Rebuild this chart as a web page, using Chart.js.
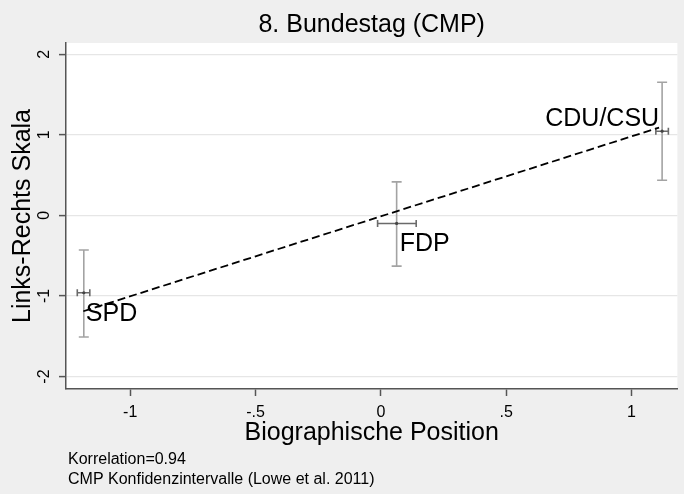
<!DOCTYPE html>
<html><head><meta charset="utf-8">
<script src="https://cdn.jsdelivr.net/npm/chart.js@4/dist/chart.umd.min.js"></script>
<style>html,body{margin:0;padding:0;background:#efefef;overflow:hidden}#wrap{width:684px;height:494px;position:relative}</style>
</head><body><div id="wrap"><canvas id="c" width="684" height="494"></canvas></div>
<script>
// ---- data ----
const parties = ['SPD', 'FDP', 'CDU/CSU'];
const bioPos  = [-1.185, 0.063, 1.122];   // x centre (Biographische Position)
const bioLow  = [-1.211, -0.013, 1.097];
const bioHigh = [-1.161, 0.141, 1.147];
const cmpPos  = [-0.96, -0.10, 1.045];     // y centre (Links-Rechts Skala)
const cmpLow  = [-1.51, -0.63, 0.437];
const cmpHigh = [-0.43, 0.416, 1.653];
const fitX = [-1.187, 1.11];
const fitY = [-1.19, 1.09];
const xTicks = [-1, -0.5, 0, 0.5, 1];
const xTickLabels = ['-1', '-.5', '0', '.5', '1'];
const yTicks = [-2, -1, 0, 1, 2];
const yTickLabels = ['-2', '-1', '0', '1', '2'];
const titleText = '8. Bundestag (CMP)';
const xTitle = 'Biographische Position';
const yTitle = 'Links-Rechts Skala';
const notes = ['Korrelation=0.94', 'CMP Konfidenzintervalle (Lowe et al. 2011)'];

const FONT = "'Liberation Sans', Arial, Helvetica, sans-serif";
// label placement (style): dx, dy from point, alignment
const labelPlace = [
  {dx: 2, dy: 21, align: 'left'},
  {dx: 3, dy: 21, align: 'left'},
  {dx: -3, dy: -12, align: 'right'}
];

const datasets = [];
parties.forEach((p, i) => {
  datasets.push({
    label: p + ' CMP',
    data: [{x: bioPos[i], y: cmpLow[i]}, {x: bioPos[i], y: cmpHigh[i]}],
    showLine: true, borderColor: '#a3a3a3', borderWidth: 1.6,
    pointStyle: 'line', pointRadius: 5, pointHoverRadius: 5,
    pointBorderColor: '#a3a3a3', pointBorderWidth: 1.6, order: 5
  });
  datasets.push({
    label: p + ' Bio',
    data: [{x: bioLow[i], y: cmpPos[i]}, {x: bioHigh[i], y: cmpPos[i]}],
    showLine: true, borderColor: '#6a6a6a', borderWidth: 1.6,
    pointStyle: 'line', pointRotation: 90, pointRadius: 3.5, pointHoverRadius: 3.5,
    pointBorderColor: '#6a6a6a', pointBorderWidth: 1.6, order: 4
  });
});
datasets.push({
  label: 'centre',
  data: bioPos.map((x, i) => ({x, y: cmpPos[i]})),
  showLine: false, pointRadius: 1.6, pointBackgroundColor: '#444', pointBorderColor: '#444',
  pointBorderWidth: 0, order: 3
});
datasets.push({
  label: 'fit',
  data: fitX.map((x, i) => ({x, y: fitY[i]})),
  showLine: true, borderColor: '#000', borderWidth: 1.8, borderDash: [8, 4],
  pointRadius: 0, order: 2
});

const bgPlugin = {
  id: 'bg',
  beforeDraw(chart) {
    const {ctx, chartArea: a} = chart;
    ctx.save();
    ctx.fillStyle = '#efefef';
    ctx.fillRect(0, 0, chart.width, chart.height);
    ctx.fillStyle = '#ffffff';
    ctx.fillRect(a.left, a.top, a.right - a.left, a.bottom - a.top);
    ctx.restore();
  }
};
const labelPlugin = {
  id: 'mlabels',
  afterDatasetsDraw(chart) {
    const {ctx, scales: {x, y}} = chart;
    ctx.save();
    ctx.font = '25px ' + FONT;
    ctx.fillStyle = '#000';
    ctx.textBaseline = 'middle';
    parties.forEach((p, i) => {
      const lp = labelPlace[i];
      ctx.textAlign = lp.align;
      ctx.fillText(p, x.getPixelForValue(bioPos[i]) + lp.dx, y.getPixelForValue(cmpPos[i]) + lp.dy);
    });
    ctx.restore();
  }
};
const notePlugin = {
  id: 'notes',
  afterDraw(chart) {
    const ctx = chart.ctx;
    ctx.save();
    ctx.font = '16px ' + FONT;
    ctx.fillStyle = '#000';
    ctx.textBaseline = 'middle';
    ctx.textAlign = 'left';
    notes.forEach((t, i) => ctx.fillText(t, 68, 460 + i * 20));
    ctx.restore();
  }
};

new Chart(document.getElementById('c'), {
  type: 'scatter',
  data: {datasets},
  plugins: [bgPlugin, labelPlugin, notePlugin],
  options: {
    responsive: false, animation: false, devicePixelRatio: 1,
    layout: {padding: {left: 0, right: 1, top: 0, bottom: 49}},
    plugins: {
      legend: {display: false}, tooltip: {enabled: false},
      title: {display: true, text: titleText, fullSize: false, color: '#000',
        font: {family: FONT, size: 25, weight: 'normal', lineHeight: 1.0},
        padding: {top: 13, bottom: 5}}
    },
    scales: {
      x: {
        type: 'linear', min: -1.256, max: 1.183,
        afterBuildTicks: s => { s.ticks = xTicks.map(v => ({value: v})); },
        afterFit: s => { s.height = 56; },
        ticks: {callback: v => xTickLabels[xTicks.indexOf(v)], color: '#000',
          font: {family: FONT, size: 16}, padding: 7, maxRotation: 0, minRotation: 0, autoSkip: false},
        grid: {drawOnChartArea: false, tickLength: 7, tickColor: '#555', tickWidth: 1.5},
        border: {color: '#555', width: 1.5},
        title: {display: true, text: xTitle, color: '#000',
          font: {family: FONT, size: 25, lineHeight: 1.0}, padding: {top: 0, bottom: -1}}
      },
      y: {
        type: 'linear', min: -2.155, max: 2.14,
        afterBuildTicks: s => { s.ticks = yTicks.map(v => ({value: v})); },
        afterFit: s => { s.width = 66; },
        ticks: {callback: v => yTickLabels[yTicks.indexOf(v)], color: '#000',
          font: {family: FONT, size: 16}, padding: 7, minRotation: 90, maxRotation: 90,
          crossAlign: 'center', autoSkip: false},
        grid: {color: '#e6e6e6', lineWidth: 1.2, tickLength: 7, tickColor: '#555', tickWidth: 1.5},
        border: {color: '#555', width: 1.5},
        title: {display: true, text: yTitle, color: '#000',
          font: {family: FONT, size: 25, lineHeight: 1.2}, padding: {top: 8, bottom: 0}}
      }
    }
  }
});
</script></body></html>
